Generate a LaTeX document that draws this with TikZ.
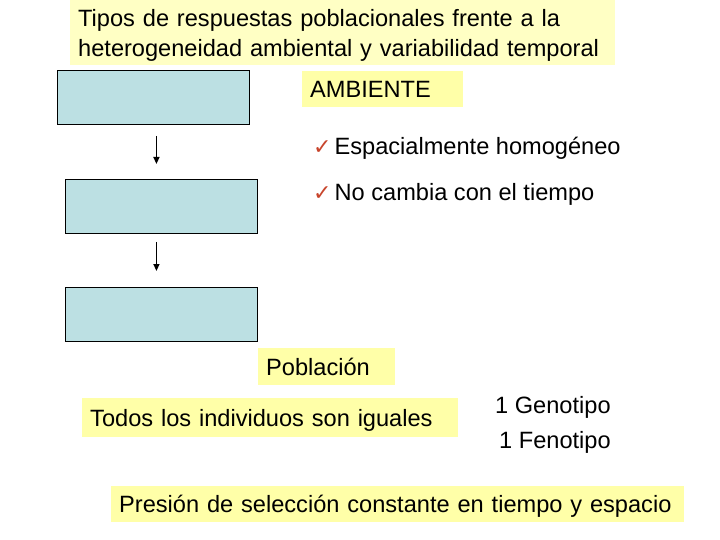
\documentclass[tikz,border=0pt]{standalone}
\usepackage{fontspec}
\setmainfont{Liberation Sans}
\newfontfamily\symfont{DejaVu Sans}
\usetikzlibrary{calc,arrows.meta}
\definecolor{ylw}{HTML}{FFFFA8}
\definecolor{ylwpale}{HTML}{FFFFC4}
\definecolor{bluebox}{HTML}{BCE0E3}
\definecolor{chk}{HTML}{C8452C}
\newcommand\chkmark{{\color{chk}\symfont\fontsize{22}{24}\selectfont ✓}}
\begin{document}
\begin{tikzpicture}[x=1pt,y=-1pt,
  ybox/.style={fill=ylw,draw=none,anchor=north west,inner xsep=8pt,inner ysep=0pt,align=left,text height=22pt,text depth=5pt,font=\fontsize{23.6}{28}\selectfont},
  bbox/.style={fill=bluebox,draw=black,line width=0.9pt,anchor=north west,minimum width=192pt,minimum height=54pt,inner sep=0pt},
  txt/.style={anchor=west,inner sep=0pt,font=\fontsize{23.6}{28}\selectfont},
  arr/.style={line width=1.4pt,-{Triangle[length=7pt,width=6pt]}}]
\useasboundingbox (0,0) rectangle (720,540);
\fill[white] (0,0) rectangle (720,540);
% title
\node[ybox,fill=ylwpale,minimum width=545pt,minimum height=65pt,text width=529pt,text height=21pt,text depth=33pt,font=\fontsize{23.6}{30}\selectfont] (title) at (70,0)
  {Tipos de respuestas poblacionales frente a la\\heterogeneidad ambiental y variabilidad temporal};
% blue boxes
\node[bbox] (b1) at (57,70) {};
\node[bbox] (b2) at (65,179) {};
\node[bbox] (b3) at (65,287) {};
\draw[arr] ($(b1.south)+(3,11)$) -- ($(b2.north)+(-5,-15)$);
\draw[arr] ($(b2.south)+(-5,8)$) -- ($(b3.north)+(-5,-16)$);
% ambiente
\node[ybox,minimum width=161pt,minimum height=36pt,text width=145pt] (amb) at (302,71) {AMBIENTE};
\node[txt] (c1) at (313,148) {\chkmark\kern3pt Espacialmente homogéneo};
\node[txt] (c2) at (313,194) {\chkmark\kern3pt No cambia con el tiempo};
% poblacion
\node[ybox,minimum width=137pt,minimum height=37pt,text width=121pt] (pob) at (258,348) {Población};
\node[ybox,minimum width=376pt,minimum height=39pt,text width=360pt] (todos) at (82,398) {Todos los individuos son iguales};
\node[txt] (geno) at (495,407) {1 Genotipo};
\node[txt] (feno) at (499,442) {1 Fenotipo};
\node[ybox,minimum width=573pt,minimum height=36pt,text width=557pt] (pres) at (111,486) {Presión de selección constante en tiempo y espacio};
\end{tikzpicture}
\end{document}
